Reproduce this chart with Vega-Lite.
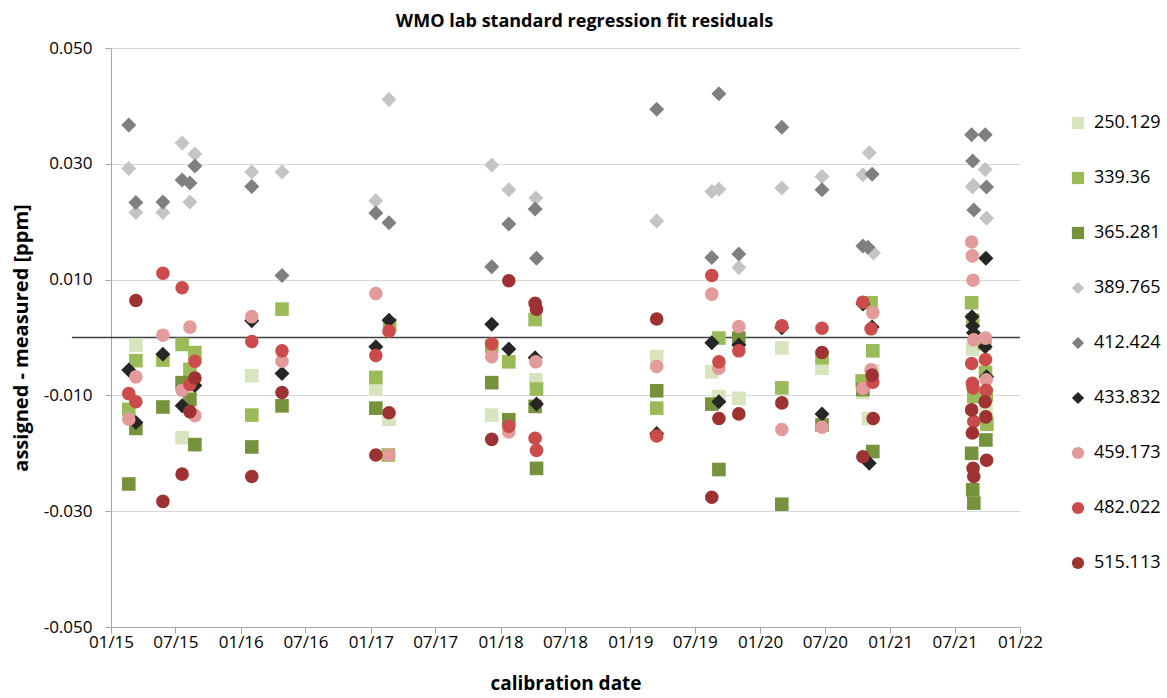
{
  "$schema": "https://vega.github.io/schema/vega-lite/v6.json",
  "width": 909,
  "height": 579,
  "autosize": {"type": "none"},
  "padding": {"left": 111, "top": 48, "right": 147, "bottom": 71},
  "background": "white",
  "config": {"font": "Open Sans", "view": {"stroke": null}},
  "title": {"text": "WMO lab standard regression fit residuals", "fontSize": 18, "fontWeight": "bold", "color": "#000000", "anchor": "middle", "frame": "group", "dx": 19, "offset": 8},
  "layer": [
    {
      "data": {"values": [{"start": "2014-09-13", "end": "2022-01-01", "res": 0}]},
      "mark": {"type": "rule", "color": "#404040", "strokeWidth": 1.6, "clip": false},
      "encoding": {
        "x": {"field": "start", "type": "temporal"},
        "x2": {"field": "end"},
        "y": {"field": "res", "type": "quantitative"}
      }
    },
    {
      "data": {"values": [
        {"date": "2015-03-12", "std": "250.129", "res": -0.0013},
        {"date": "2015-07-20", "std": "250.129", "res": -0.0173},
        {"date": "2015-08-11", "std": "250.129", "res": -0.0092},
        {"date": "2016-02-01", "std": "250.129", "res": -0.0066},
        {"date": "2017-01-15", "std": "250.129", "res": -0.0089},
        {"date": "2017-02-21", "std": "250.129", "res": -0.0141},
        {"date": "2017-12-07", "std": "250.129", "res": -0.0134},
        {"date": "2018-04-10", "std": "250.129", "res": -0.0073},
        {"date": "2019-03-16", "std": "250.129", "res": -0.0033},
        {"date": "2019-08-18", "std": "250.129", "res": -0.0059},
        {"date": "2019-09-07", "std": "250.129", "res": -0.0102},
        {"date": "2019-11-02", "std": "250.129", "res": -0.0105},
        {"date": "2020-03-02", "std": "250.129", "res": -0.0018},
        {"date": "2020-06-23", "std": "250.129", "res": -0.0053},
        {"date": "2020-10-16", "std": "250.129", "res": -0.0095},
        {"date": "2020-11-01", "std": "250.129", "res": -0.0140},
        {"date": "2020-11-13", "std": "250.129", "res": -0.0058},
        {"date": "2021-08-21", "std": "250.129", "res": -0.0020},
        {"date": "2021-09-27", "std": "250.129", "res": -0.0125},

        {"date": "2015-02-20", "std": "339.36", "res": -0.0124},
        {"date": "2015-03-12", "std": "339.36", "res": -0.0040},
        {"date": "2015-05-27", "std": "339.36", "res": -0.0039},
        {"date": "2015-07-20", "std": "339.36", "res": -0.0012},
        {"date": "2015-08-11", "std": "339.36", "res": -0.0055},
        {"date": "2015-08-25", "std": "339.36", "res": -0.0026},
        {"date": "2016-02-01", "std": "339.36", "res": -0.0134},
        {"date": "2016-04-26", "std": "339.36", "res": 0.0049},
        {"date": "2017-01-15", "std": "339.36", "res": -0.0069},
        {"date": "2017-02-19", "std": "339.36", "res": -0.0203},
        {"date": "2017-02-23", "std": "339.36", "res": 0.0022},
        {"date": "2017-12-07", "std": "339.36", "res": -0.0015},
        {"date": "2018-01-24", "std": "339.36", "res": -0.0042},
        {"date": "2018-04-08", "std": "339.36", "res": 0.0031},
        {"date": "2018-04-12", "std": "339.36", "res": -0.0089},
        {"date": "2019-03-16", "std": "339.36", "res": -0.0122},
        {"date": "2019-09-07", "std": "339.36", "res": -0.0001},
        {"date": "2020-03-02", "std": "339.36", "res": -0.0087},
        {"date": "2020-06-23", "std": "339.36", "res": -0.0035},
        {"date": "2020-10-14", "std": "339.36", "res": -0.0075},
        {"date": "2020-11-08", "std": "339.36", "res": 0.0060},
        {"date": "2020-11-13", "std": "339.36", "res": -0.0023},
        {"date": "2021-08-18", "std": "339.36", "res": 0.0060},
        {"date": "2021-08-21", "std": "339.36", "res": 0.0030},
        {"date": "2021-08-24", "std": "339.36", "res": -0.0102},
        {"date": "2021-09-24", "std": "339.36", "res": -0.0010},
        {"date": "2021-09-26", "std": "339.36", "res": -0.0060},
        {"date": "2021-09-28", "std": "339.36", "res": -0.0100},
        {"date": "2021-09-30", "std": "339.36", "res": -0.0150},

        {"date": "2015-02-20", "std": "365.281", "res": -0.0253},
        {"date": "2015-03-12", "std": "365.281", "res": -0.0157},
        {"date": "2015-05-27", "std": "365.281", "res": -0.0120},
        {"date": "2015-07-20", "std": "365.281", "res": -0.0078},
        {"date": "2015-08-11", "std": "365.281", "res": -0.0107},
        {"date": "2015-08-25", "std": "365.281", "res": -0.0185},
        {"date": "2016-02-01", "std": "365.281", "res": -0.0189},
        {"date": "2016-04-26", "std": "365.281", "res": -0.0118},
        {"date": "2017-01-15", "std": "365.281", "res": -0.0122},
        {"date": "2017-12-07", "std": "365.281", "res": -0.0078},
        {"date": "2018-01-24", "std": "365.281", "res": -0.0142},
        {"date": "2018-04-08", "std": "365.281", "res": -0.0119},
        {"date": "2018-04-12", "std": "365.281", "res": -0.0226},
        {"date": "2019-03-16", "std": "365.281", "res": -0.0092},
        {"date": "2019-08-18", "std": "365.281", "res": -0.0115},
        {"date": "2019-09-07", "std": "365.281", "res": -0.0228},
        {"date": "2019-11-02", "std": "365.281", "res": -0.0001},
        {"date": "2020-03-02", "std": "365.281", "res": -0.0288},
        {"date": "2020-06-23", "std": "365.281", "res": -0.0151},
        {"date": "2020-10-16", "std": "365.281", "res": -0.0090},
        {"date": "2020-11-13", "std": "365.281", "res": -0.0197},
        {"date": "2021-08-18", "std": "365.281", "res": -0.0200},
        {"date": "2021-08-21", "std": "365.281", "res": -0.0263},
        {"date": "2021-08-24", "std": "365.281", "res": -0.0286},
        {"date": "2021-09-27", "std": "365.281", "res": -0.0177},

        {"date": "2015-02-20", "std": "389.765", "res": 0.0292},
        {"date": "2015-03-12", "std": "389.765", "res": 0.0216},
        {"date": "2015-05-27", "std": "389.765", "res": 0.0216},
        {"date": "2015-07-20", "std": "389.765", "res": 0.0336},
        {"date": "2015-08-11", "std": "389.765", "res": 0.0234},
        {"date": "2015-08-25", "std": "389.765", "res": 0.0317},
        {"date": "2016-02-01", "std": "389.765", "res": 0.0286},
        {"date": "2016-04-26", "std": "389.765", "res": 0.0286},
        {"date": "2017-01-15", "std": "389.765", "res": 0.0236},
        {"date": "2017-02-21", "std": "389.765", "res": 0.0411},
        {"date": "2017-12-07", "std": "389.765", "res": 0.0298},
        {"date": "2018-01-24", "std": "389.765", "res": 0.0255},
        {"date": "2018-04-10", "std": "389.765", "res": 0.0241},
        {"date": "2019-03-16", "std": "389.765", "res": 0.0201},
        {"date": "2019-08-18", "std": "389.765", "res": 0.0252},
        {"date": "2019-09-07", "std": "389.765", "res": 0.0256},
        {"date": "2019-11-02", "std": "389.765", "res": 0.0121},
        {"date": "2020-03-02", "std": "389.765", "res": 0.0258},
        {"date": "2020-06-23", "std": "389.765", "res": 0.0278},
        {"date": "2020-10-16", "std": "389.765", "res": 0.0281},
        {"date": "2020-11-03", "std": "389.765", "res": 0.0319},
        {"date": "2020-11-15", "std": "389.765", "res": 0.0146},
        {"date": "2021-08-20", "std": "389.765", "res": 0.0260},
        {"date": "2021-08-23", "std": "389.765", "res": 0.0263},
        {"date": "2021-09-25", "std": "389.765", "res": 0.0290},
        {"date": "2021-09-29", "std": "389.765", "res": 0.0206},

        {"date": "2015-02-20", "std": "412.424", "res": 0.0367},
        {"date": "2015-03-12", "std": "412.424", "res": 0.0233},
        {"date": "2015-05-27", "std": "412.424", "res": 0.0234},
        {"date": "2015-07-20", "std": "412.424", "res": 0.0272},
        {"date": "2015-08-11", "std": "412.424", "res": 0.0267},
        {"date": "2015-08-25", "std": "412.424", "res": 0.0296},
        {"date": "2016-02-01", "std": "412.424", "res": 0.0261},
        {"date": "2016-04-26", "std": "412.424", "res": 0.0107},
        {"date": "2017-01-15", "std": "412.424", "res": 0.0215},
        {"date": "2017-02-21", "std": "412.424", "res": 0.0198},
        {"date": "2017-12-07", "std": "412.424", "res": 0.0122},
        {"date": "2018-01-24", "std": "412.424", "res": 0.0196},
        {"date": "2018-04-08", "std": "412.424", "res": 0.0222},
        {"date": "2018-04-12", "std": "412.424", "res": 0.0137},
        {"date": "2019-03-16", "std": "412.424", "res": 0.0394},
        {"date": "2019-08-18", "std": "412.424", "res": 0.0138},
        {"date": "2019-09-07", "std": "412.424", "res": 0.0421},
        {"date": "2019-11-02", "std": "412.424", "res": 0.0144},
        {"date": "2020-03-02", "std": "412.424", "res": 0.0363},
        {"date": "2020-06-23", "std": "412.424", "res": 0.0255},
        {"date": "2020-10-16", "std": "412.424", "res": 0.0158},
        {"date": "2020-10-30", "std": "412.424", "res": 0.0156},
        {"date": "2020-11-11", "std": "412.424", "res": 0.0282},
        {"date": "2021-08-18", "std": "412.424", "res": 0.0350},
        {"date": "2021-08-21", "std": "412.424", "res": 0.0305},
        {"date": "2021-08-24", "std": "412.424", "res": 0.0220},
        {"date": "2021-09-25", "std": "412.424", "res": 0.0350},
        {"date": "2021-09-29", "std": "412.424", "res": 0.0260},

        {"date": "2015-02-20", "std": "433.832", "res": -0.0056},
        {"date": "2015-03-12", "std": "433.832", "res": -0.0147},
        {"date": "2015-05-27", "std": "433.832", "res": -0.0029},
        {"date": "2015-07-20", "std": "433.832", "res": -0.0118},
        {"date": "2015-08-25", "std": "433.832", "res": -0.0083},
        {"date": "2016-02-01", "std": "433.832", "res": 0.0029},
        {"date": "2016-04-26", "std": "433.832", "res": -0.0062},
        {"date": "2017-01-15", "std": "433.832", "res": -0.0016},
        {"date": "2017-02-21", "std": "433.832", "res": 0.0030},
        {"date": "2017-12-07", "std": "433.832", "res": 0.0023},
        {"date": "2018-01-24", "std": "433.832", "res": -0.0020},
        {"date": "2018-04-08", "std": "433.832", "res": -0.0035},
        {"date": "2018-04-12", "std": "433.832", "res": -0.0115},
        {"date": "2019-03-16", "std": "433.832", "res": -0.0166},
        {"date": "2019-08-18", "std": "433.832", "res": -0.0009},
        {"date": "2019-09-07", "std": "433.832", "res": -0.0111},
        {"date": "2019-11-02", "std": "433.832", "res": -0.0013},
        {"date": "2020-03-02", "std": "433.832", "res": 0.0017},
        {"date": "2020-06-23", "std": "433.832", "res": -0.0132},
        {"date": "2020-10-16", "std": "433.832", "res": 0.0058},
        {"date": "2020-11-03", "std": "433.832", "res": -0.0217},
        {"date": "2020-11-11", "std": "433.832", "res": 0.0018},
        {"date": "2021-08-19", "std": "433.832", "res": 0.0036},
        {"date": "2021-08-21", "std": "433.832", "res": 0.0020},
        {"date": "2021-08-23", "std": "433.832", "res": 0.0008},
        {"date": "2021-09-25", "std": "433.832", "res": -0.0016},
        {"date": "2021-09-27", "std": "433.832", "res": 0.0137},
        {"date": "2021-09-29", "std": "433.832", "res": -0.0068},

        {"date": "2015-02-20", "std": "459.173", "res": -0.0141},
        {"date": "2015-03-12", "std": "459.173", "res": -0.0068},
        {"date": "2015-05-27", "std": "459.173", "res": 0.0004},
        {"date": "2015-07-20", "std": "459.173", "res": -0.0091},
        {"date": "2015-08-11", "std": "459.173", "res": 0.0018},
        {"date": "2015-08-25", "std": "459.173", "res": -0.0135},
        {"date": "2016-02-01", "std": "459.173", "res": 0.0036},
        {"date": "2016-04-26", "std": "459.173", "res": -0.0041},
        {"date": "2017-01-15", "std": "459.173", "res": 0.0076},
        {"date": "2017-02-21", "std": "459.173", "res": -0.0203},
        {"date": "2017-12-07", "std": "459.173", "res": -0.0033},
        {"date": "2018-01-24", "std": "459.173", "res": -0.0163},
        {"date": "2018-04-10", "std": "459.173", "res": -0.0042},
        {"date": "2019-03-16", "std": "459.173", "res": -0.0050},
        {"date": "2019-08-18", "std": "459.173", "res": 0.0075},
        {"date": "2019-09-07", "std": "459.173", "res": -0.0053},
        {"date": "2019-11-02", "std": "459.173", "res": 0.0019},
        {"date": "2020-03-02", "std": "459.173", "res": -0.0159},
        {"date": "2020-06-23", "std": "459.173", "res": -0.0155},
        {"date": "2020-10-16", "std": "459.173", "res": -0.0088},
        {"date": "2020-11-08", "std": "459.173", "res": -0.0056},
        {"date": "2020-11-13", "std": "459.173", "res": 0.0043},
        {"date": "2021-08-18", "std": "459.173", "res": 0.0165},
        {"date": "2021-08-20", "std": "459.173", "res": 0.0141},
        {"date": "2021-08-22", "std": "459.173", "res": 0.0099},
        {"date": "2021-08-24", "std": "459.173", "res": -0.0004},
        {"date": "2021-09-26", "std": "459.173", "res": -0.0001},
        {"date": "2021-09-28", "std": "459.173", "res": -0.0073},

        {"date": "2015-02-20", "std": "482.022", "res": -0.0097},
        {"date": "2015-03-12", "std": "482.022", "res": -0.0111},
        {"date": "2015-05-27", "std": "482.022", "res": 0.0111},
        {"date": "2015-07-20", "std": "482.022", "res": 0.0086},
        {"date": "2015-08-11", "std": "482.022", "res": -0.0081},
        {"date": "2015-08-25", "std": "482.022", "res": -0.0041},
        {"date": "2016-02-01", "std": "482.022", "res": -0.0007},
        {"date": "2016-04-26", "std": "482.022", "res": -0.0023},
        {"date": "2017-01-15", "std": "482.022", "res": -0.0031},
        {"date": "2017-02-21", "std": "482.022", "res": 0.0011},
        {"date": "2017-12-07", "std": "482.022", "res": -0.0011},
        {"date": "2018-01-24", "std": "482.022", "res": -0.0153},
        {"date": "2018-04-08", "std": "482.022", "res": -0.0174},
        {"date": "2018-04-12", "std": "482.022", "res": -0.0195},
        {"date": "2019-03-16", "std": "482.022", "res": -0.0170},
        {"date": "2019-08-18", "std": "482.022", "res": 0.0107},
        {"date": "2019-09-07", "std": "482.022", "res": -0.0042},
        {"date": "2019-11-02", "std": "482.022", "res": -0.0023},
        {"date": "2020-03-02", "std": "482.022", "res": 0.0020},
        {"date": "2020-06-23", "std": "482.022", "res": 0.0016},
        {"date": "2020-10-16", "std": "482.022", "res": 0.0061},
        {"date": "2020-11-08", "std": "482.022", "res": 0.0015},
        {"date": "2020-11-13", "std": "482.022", "res": -0.0077},
        {"date": "2021-08-18", "std": "482.022", "res": -0.0045},
        {"date": "2021-08-20", "std": "482.022", "res": -0.0079},
        {"date": "2021-08-22", "std": "482.022", "res": -0.0087},
        {"date": "2021-08-24", "std": "482.022", "res": -0.0145},
        {"date": "2021-09-26", "std": "482.022", "res": -0.0038},
        {"date": "2021-09-28", "std": "482.022", "res": -0.0091},

        {"date": "2015-03-12", "std": "515.113", "res": 0.0064},
        {"date": "2015-05-27", "std": "515.113", "res": -0.0283},
        {"date": "2015-07-20", "std": "515.113", "res": -0.0236},
        {"date": "2015-08-11", "std": "515.113", "res": -0.0128},
        {"date": "2015-08-25", "std": "515.113", "res": -0.0070},
        {"date": "2016-02-01", "std": "515.113", "res": -0.0240},
        {"date": "2016-04-26", "std": "515.113", "res": -0.0095},
        {"date": "2017-01-15", "std": "515.113", "res": -0.0203},
        {"date": "2017-02-21", "std": "515.113", "res": -0.0130},
        {"date": "2017-12-07", "std": "515.113", "res": -0.0176},
        {"date": "2018-01-24", "std": "515.113", "res": 0.0098},
        {"date": "2018-04-08", "std": "515.113", "res": 0.0059},
        {"date": "2018-04-12", "std": "515.113", "res": 0.0049},
        {"date": "2019-03-16", "std": "515.113", "res": 0.0032},
        {"date": "2019-08-18", "std": "515.113", "res": -0.0276},
        {"date": "2019-09-07", "std": "515.113", "res": -0.0140},
        {"date": "2019-11-02", "std": "515.113", "res": -0.0132},
        {"date": "2020-03-02", "std": "515.113", "res": -0.0113},
        {"date": "2020-06-23", "std": "515.113", "res": -0.0026},
        {"date": "2020-10-16", "std": "515.113", "res": -0.0206},
        {"date": "2020-11-11", "std": "515.113", "res": -0.0065},
        {"date": "2020-11-14", "std": "515.113", "res": -0.0140},
        {"date": "2021-08-18", "std": "515.113", "res": -0.0125},
        {"date": "2021-08-20", "std": "515.113", "res": -0.0165},
        {"date": "2021-08-22", "std": "515.113", "res": -0.0226},
        {"date": "2021-08-24", "std": "515.113", "res": -0.0240},
        {"date": "2021-09-25", "std": "515.113", "res": -0.0111},
        {"date": "2021-09-27", "std": "515.113", "res": -0.0137},
        {"date": "2021-09-29", "std": "515.113", "res": -0.0212}
      ]},
      "mark": {"type": "point", "filled": true, "opacity": 1},
      "encoding": {
        "x": {
          "field": "date", "type": "temporal",
          "scale": {"type": "utc", "domain": [{"year": 2015, "month": 1, "date": 1, "utc": true}, {"year": 2022, "month": 1, "date": 1, "utc": true}]},
          "axis": {
            "values": [
              {"year": 2015, "month": 1, "date": 1, "utc": true}, {"year": 2015, "month": 7, "date": 1, "utc": true},
              {"year": 2016, "month": 1, "date": 1, "utc": true}, {"year": 2016, "month": 7, "date": 1, "utc": true},
              {"year": 2017, "month": 1, "date": 1, "utc": true}, {"year": 2017, "month": 7, "date": 1, "utc": true},
              {"year": 2018, "month": 1, "date": 1, "utc": true}, {"year": 2018, "month": 7, "date": 1, "utc": true},
              {"year": 2019, "month": 1, "date": 1, "utc": true}, {"year": 2019, "month": 7, "date": 1, "utc": true},
              {"year": 2020, "month": 1, "date": 1, "utc": true}, {"year": 2020, "month": 7, "date": 1, "utc": true},
              {"year": 2021, "month": 1, "date": 1, "utc": true}, {"year": 2021, "month": 7, "date": 1, "utc": true},
              {"year": 2022, "month": 1, "date": 1, "utc": true}
            ],
            "format": "%m/%y",
            "grid": false,
            "domainColor": "#a6a6a6",
            "tickColor": "#a6a6a6",
            "tickSize": 6,
            "labelFontSize": 17,
            "labelColor": "#000000",
            "labelPadding": 1,
            "labelFlush": false,
            "labelOverlap": false,
            "title": "calibration date",
            "titleFontSize": 19,
            "titleFontWeight": "bold",
            "titleColor": "#000000",
            "titlePadding": 24
          }
        },
        "y": {
          "field": "res", "type": "quantitative",
          "scale": {"domain": [-0.05, 0.05], "nice": false, "zero": false},
          "axis": {
            "values": [-0.05, -0.03, -0.01, 0.01, 0.03, 0.05],
            "labelExpr": "datum.value < 0 ? '-' + format(-datum.value, '.3f') : format(datum.value, '.3f')",
            "grid": true,
            "gridColor": "#d9d9d9",
            "domainColor": "#a6a6a6",
            "tickColor": "#a6a6a6",
            "tickSize": 6,
            "labelFontSize": 17,
            "labelColor": "#000000",
            "labelPadding": 13,
            "title": "assigned - measured [ppm]",
            "titleFontSize": 20,
            "titleFontWeight": "bold",
            "titleColor": "#000000",
            "titlePadding": 12
          }
        },
        "color": {
          "field": "std", "type": "nominal",
          "scale": {
            "domain": ["250.129", "339.36", "365.281", "389.765", "412.424", "433.832", "459.173", "482.022", "515.113"],
            "range": ["#d7e4bd", "#9bbb59", "#76923c", "#c4c4c4", "#7f7f7f", "#262626", "#e39a9a", "#cc4b4b", "#9e3232"]
          },
          "legend": {
            "title": null,
            "orient": "none",
            "legendX": 958,
            "legendY": 66,
            "labelFontSize": 18,
            "labelColor": "#000000",
            "symbolSize": 150,
            "rowPadding": 37,
            "labelOffset": 7,
            "symbolStrokeWidth": 0
          }
        },
        "shape": {
          "field": "std", "type": "nominal",
          "scale": {
            "domain": ["250.129", "339.36", "365.281", "389.765", "412.424", "433.832", "459.173", "482.022", "515.113"],
            "range": ["square", "square", "square", "diamond", "diamond", "diamond", "circle", "circle", "circle"]
          }
        },
        "size": {
          "condition": {"test": "indexof(['389.765', '412.424', '433.832'], datum.std) >= 0", "value": 225},
          "value": 185
        }
      }
    }
  ]
}
